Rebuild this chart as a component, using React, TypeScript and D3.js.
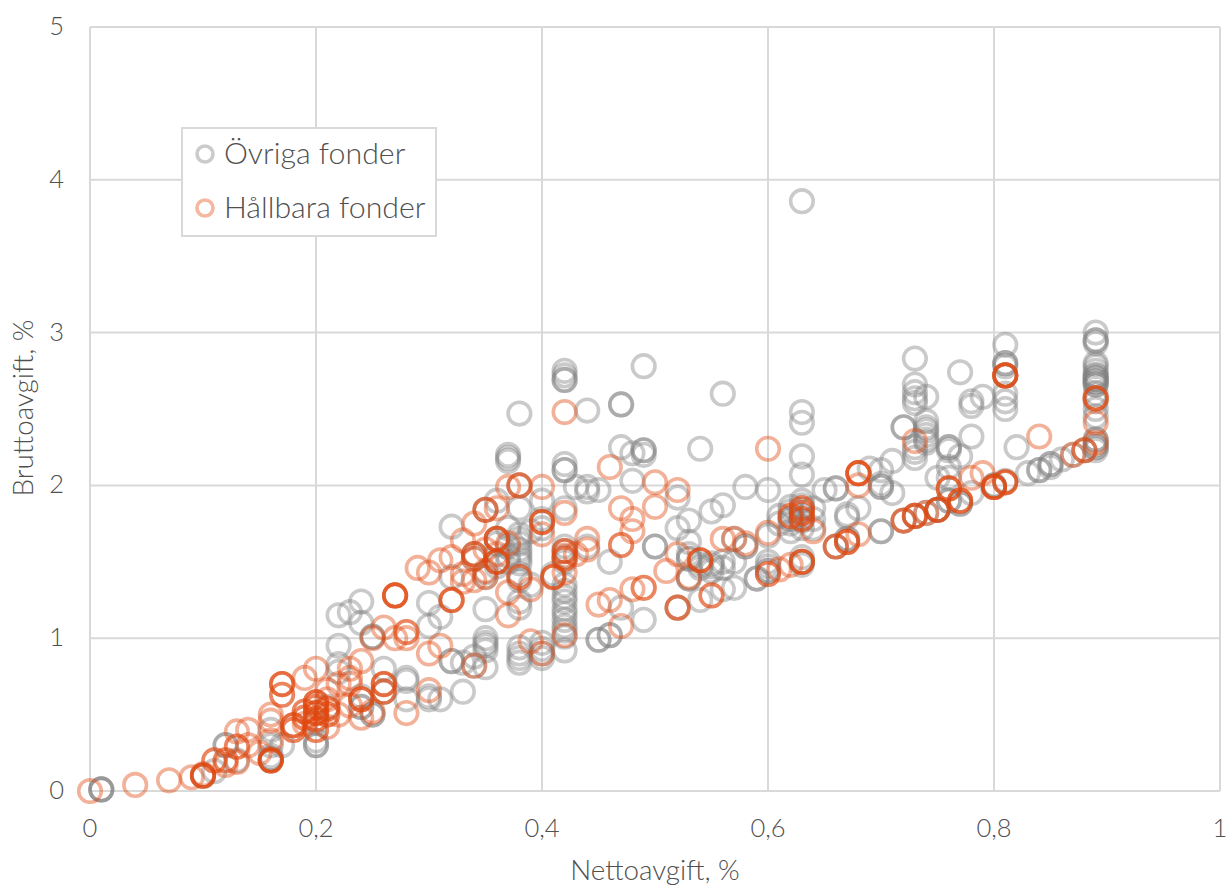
import React from "react";
import * as d3 from "d3";

const xTicks = [0, 0.2, 0.4, 0.6, 0.8, 1];
const yTicks = [0, 1, 2, 3, 4, 5];
const xTitle = "Nettoavgift, %";
const yTitle = "Bruttoavgift, %";
const seriesNames = ["Övriga fonder", "Hållbara fonder"];

// [netto, brutto, number of funds at that point]
const ovriga: [number, number, number][] = [
  [0.01,0.01,3],[0.1,0.1,1],[0.11,0.13,1],[0.12,0.3,2],[0.13,0.2,1],[0.16,0.21,2],[0.16,0.23,1],[0.16,0.3,1],[0.16,0.4,1],[0.17,0.3,1],
  [0.2,0.3,2],[0.2,0.33,1],[0.2,0.45,1],[0.21,0.55,1],[0.22,1.15,1],[0.23,1.17,1],[0.24,1.24,1],[0.24,1.1,1],[0.25,1.01,2],[0.22,0.95,1],
  [0.22,0.83,1],[0.22,0.78,1],[0.26,0.8,1],[0.25,0.5,2],[0.24,0.55,2],[0.24,0.62,1],[0.26,0.65,1],[0.28,0.72,1],[0.28,0.74,1],[0.28,0.6,1],
  [0.3,1.23,1],[0.3,1.08,1],[0.31,1.14,1],[0.3,0.6,1],[0.3,0.62,1],[0.31,0.6,1],[0.32,1.73,1],[0.32,1.4,1],[0.32,0.85,2],[0.33,0.84,1],[0.33,0.65,1],
  [0.34,0.88,1],[0.34,0.82,1],[0.34,1.55,1],[0.34,1.52,1],[0.35,1.0,1],[0.35,0.97,1],[0.35,0.95,1],[0.35,0.92,1],[0.35,0.81,1],[0.35,1.19,1],[0.35,1.4,1],[0.35,1.43,1],[0.35,1.84,1],
  [0.36,1.65,1],[0.36,1.62,1],[0.36,1.5,1],[0.36,1.47,1],[0.36,1.9,1],[0.37,1.72,1],[0.37,1.6,1],[0.37,2.18,1],[0.37,2.2,1],[0.37,2.16,1],[0.37,1.5,1],[0.37,1.54,1],[0.38,2.47,1],[0.38,2.0,1],[0.38,1.85,1],
  [0.38,1.68,1],[0.38,1.65,1],[0.38,1.62,1],[0.38,1.58,1],[0.38,1.55,1],[0.38,1.52,1],[0.38,1.49,1],[0.38,1.42,1],[0.38,1.38,1],[0.38,1.24,1],[0.38,1.2,1],[0.38,0.94,1],[0.38,0.9,1],[0.38,0.87,1],[0.38,0.84,1],[0.39,1.7,1],[0.39,1.35,1],
  [0.4,1.9,1],[0.4,1.78,1],[0.4,1.72,1],[0.4,0.97,1],[0.4,0.93,1],[0.4,0.9,1],[0.4,0.87,1],[0.41,1.42,1],[0.42,2.75,1],[0.42,2.72,1],[0.42,2.69,2],[0.42,2.14,1],[0.42,2.1,2],
  [0.42,1.85,1],[0.42,1.6,1],[0.42,1.57,1],[0.42,1.53,1],[0.42,1.5,1],[0.42,1.35,1],[0.42,1.31,1],[0.42,1.27,1],[0.42,1.24,1],[0.42,1.19,1],[0.42,1.16,1],[0.42,1.12,1],[0.42,1.08,1],[0.42,1.05,1],[0.42,1.01,1],[0.42,0.92,1],
  [0.43,1.99,1],[0.44,1.99,1],[0.44,1.96,1],[0.44,2.49,1],[0.44,1.6,1],[0.45,1.97,1],[0.45,0.99,2],[0.46,1.5,1],[0.46,1.02,2],[0.47,2.53,2],[0.47,2.25,1],[0.47,1.2,1],
  [0.48,2.21,1],[0.48,2.03,1],[0.49,2.78,1],[0.49,2.23,2],[0.49,2.2,1],[0.49,1.12,1],[0.5,1.6,2],[0.52,1.92,1],[0.52,1.72,1],[0.52,1.2,1],[0.53,1.77,1],
  [0.53,1.63,1],[0.53,1.55,1],[0.53,1.52,2],[0.53,1.39,2],[0.54,2.24,1],[0.54,1.48,1],[0.54,1.46,1],[0.54,1.25,1],[0.55,1.83,1],[0.55,1.49,1],[0.55,1.47,1],[0.55,1.44,1],[0.56,1.87,1],[0.56,2.6,1],
  [0.56,1.5,1],[0.56,1.46,1],[0.56,1.32,1],[0.57,1.33,1],[0.57,1.5,1],[0.57,1.65,1],[0.58,1.99,1],[0.58,1.6,2],[0.59,1.39,2],[0.6,1.97,1],[0.6,1.67,1],[0.6,1.5,1],[0.6,1.47,1],
  [0.6,1.44,2],[0.61,1.75,1],[0.61,1.8,1],[0.62,1.86,1],[0.62,1.83,1],[0.62,1.78,2],[0.62,1.75,1],[0.62,1.7,1],[0.63,3.86,1],[0.63,2.48,1],[0.63,2.41,1],[0.63,2.19,1],[0.63,2.07,1],
  [0.63,1.9,1],[0.63,1.87,1],[0.63,1.84,1],[0.63,1.8,1],[0.63,1.77,1],[0.63,1.72,1],[0.63,1.5,1],[0.63,1.53,1],[0.63,1.48,1],[0.64,1.85,1],[0.64,1.72,1],[0.64,1.78,1],[0.65,1.97,1],[0.66,1.98,2],[0.66,1.6,1],
  [0.67,1.79,1],[0.67,1.81,1],[0.67,1.65,2],[0.68,1.85,1],[0.69,2.11,1],[0.7,2.1,1],[0.7,1.99,2],[0.7,2.01,1],[0.7,1.7,2],[0.71,1.95,1],[0.71,2.16,1],[0.72,2.38,2],[0.72,1.77,1],
  [0.73,2.83,1],[0.73,2.66,1],[0.73,2.61,1],[0.73,2.57,1],[0.73,2.54,1],[0.73,2.25,1],[0.73,2.22,1],[0.73,2.18,1],[0.73,1.8,1],[0.74,2.58,1],[0.74,2.42,1],[0.74,2.38,1],[0.74,2.36,1],
  [0.74,2.33,1],[0.74,2.3,1],[0.74,2.28,1],[0.74,1.82,1],[0.75,2.05,1],[0.75,1.84,2],[0.76,2.25,2],[0.76,2.23,1],[0.76,2.12,1],[0.76,2.05,1],[0.76,1.9,2],[0.77,2.74,1],[0.77,2.19,1],
  [0.77,1.88,2],[0.78,2.55,1],[0.78,2.52,1],[0.78,2.32,1],[0.78,1.95,1],[0.79,2.58,1],[0.8,2.0,2],[0.81,2.92,1],[0.81,2.8,2],[0.81,2.78,1],[0.81,2.72,1],[0.81,2.6,1],[0.81,2.55,1],
  [0.81,2.5,1],[0.81,2.03,1],[0.82,2.25,1],[0.83,2.08,1],[0.84,2.1,2],[0.85,2.14,2],[0.85,2.12,1],[0.86,2.17,1],[0.87,2.2,1],[0.88,2.23,1],
  [0.89,3.0,1],[0.89,2.95,2],[0.89,2.93,1],[0.89,2.8,1],[0.89,2.78,1],[0.89,2.75,1],[0.89,2.72,2],[0.89,2.7,2],[0.89,2.68,2],[0.89,2.66,2],[0.89,2.6,1],[0.89,2.55,1],[0.89,2.5,1],[0.89,2.45,1],
  [0.89,2.3,2],[0.89,2.27,1],[0.89,2.25,2],[0.89,2.23,1],
];

const hallbara: [number, number, number][] = [
  [0,0,1],[0.04,0.04,1],[0.07,0.07,1],[0.09,0.09,1],[0.1,0.1,3],[0.1,0.11,1],[0.11,0.2,2],[0.12,0.2,2],[0.12,0.17,1],[0.13,0.19,1],[0.13,0.39,1],[0.14,0.4,1],
  [0.13,0.29,2],[0.14,0.3,1],[0.15,0.25,1],[0.16,0.2,4],[0.16,0.5,1],[0.16,0.46,1],[0.16,0.33,1],[0.17,0.7,3],[0.17,0.63,2],[0.19,0.74,1],[0.2,0.8,1],
  [0.18,0.43,3],[0.18,0.4,2],[0.19,0.52,2],[0.19,0.48,2],[0.19,0.44,1],[0.2,0.58,3],[0.2,0.55,2],[0.2,0.51,3],[0.2,0.47,2],[0.2,0.4,2],[0.21,0.54,2],[0.21,0.5,2],[0.21,0.6,1],[0.21,0.66,1],[0.21,0.42,1],
  [0.22,0.7,1],[0.22,0.5,1],[0.23,0.8,1],[0.23,0.7,1],[0.23,0.74,1],[0.23,0.56,1],[0.24,0.85,1],[0.24,0.6,3],[0.24,0.48,1],[0.25,0.52,1],[0.25,1.0,1],
  [0.26,1.07,1],[0.26,0.7,3],[0.26,0.65,2],[0.27,1.28,4],[0.27,1.0,1],[0.28,1.04,2],[0.28,0.51,1],[0.28,1.0,1],[0.29,1.46,1],[0.3,1.43,1],[0.3,0.9,1],[0.3,0.66,1],
  [0.31,1.51,1],[0.31,0.95,1],[0.32,1.25,3],[0.32,1.53,1],[0.33,1.64,1],[0.33,1.42,1],[0.33,1.37,1],[0.34,1.75,1],[0.34,1.55,2],[0.34,1.52,1],[0.34,1.38,1],[0.34,0.82,1],
  [0.35,1.84,2],[0.35,1.58,1],[0.35,1.4,1],[0.35,1.44,1],[0.36,1.85,1],[0.36,1.65,3],[0.36,1.5,3],[0.36,1.55,1],[0.37,1.99,1],[0.37,1.15,1],[0.37,1.3,1],[0.37,1.62,1],
  [0.38,2.0,2],[0.38,1.4,2],[0.39,1.32,1],[0.39,0.98,1],[0.4,1.99,1],[0.4,1.76,3],[0.4,1.68,1],[0.4,0.9,1],[0.41,1.4,3],[0.42,2.48,1],[0.42,1.82,1],
  [0.42,1.57,2],[0.42,1.54,1],[0.42,1.52,2],[0.42,1.43,1],[0.42,1.02,1],[0.43,1.55,1],[0.44,1.65,1],[0.44,1.58,1],[0.45,1.22,1],[0.46,2.12,1],[0.46,1.25,1],[0.47,1.61,2],[0.47,1.85,1],
  [0.47,1.08,1],[0.48,1.78,1],[0.48,1.7,1],[0.48,1.32,1],[0.49,1.33,2],[0.5,2.02,1],[0.5,1.86,1],[0.51,1.44,1],[0.52,1.97,1],[0.52,1.55,1],[0.52,1.2,2],
  [0.53,1.4,1],[0.54,1.51,3],[0.55,1.28,2],[0.56,1.65,1],[0.57,1.65,1],[0.58,1.62,1],[0.6,2.24,1],[0.6,1.69,1],[0.6,1.42,2],[0.61,1.45,1],[0.62,1.48,1],
  [0.62,1.8,2],[0.63,1.85,2],[0.63,1.82,2],[0.63,1.78,2],[0.63,1.5,3],[0.64,1.7,1],[0.66,1.6,2],[0.67,1.63,3],[0.68,2.08,4],[0.68,1.68,1],[0.68,2.0,1],
  [0.72,1.77,2],[0.73,1.8,3],[0.73,2.29,1],[0.74,1.82,1],[0.75,1.84,3],[0.76,1.98,3],[0.77,1.9,3],[0.78,2.05,1],[0.79,2.08,1],[0.8,1.99,4],[0.81,2.02,3],
  [0.81,2.72,4],[0.84,2.32,1],[0.87,2.2,1],[0.88,2.23,2],[0.89,2.57,3],[0.89,2.41,1],[0.89,2.28,1],
];

const W = 1228, H = 887;
const xScale = d3.scaleLinear().domain([0, 1]).range([90, 1220]);
const yScale = d3.scaleLinear().domain([0, 5]).range([791, 27]);
const fmt = (v: number) => String(v).replace(".", ",");
const FONT = "Lato, 'Open Sans', sans-serif";
const TEXT = "#505050";
const GRID = "#d9d9d9";

function Dots({ data, color, opacity }: { data: [number, number, number][]; color: string; opacity: number }) {
  const expanded = data.flatMap((d) => d3.range(d[2]).map(() => d));
  return (
    <g fill="none" stroke={color} strokeOpacity={opacity} strokeWidth={3.6}>
      {expanded.map((d, i) => (
        <circle key={i} cx={xScale(d[0])} cy={yScale(d[1])} r={11.3} />
      ))}
    </g>
  );
}

export default function App() {
  return (
    <svg width={W} height={H} viewBox={`0 0 ${W} ${H}`} style={{ position: "absolute", left: 0, top: 0, background: "#fff" }}>
      <g stroke={GRID} strokeWidth={2}>
        {xTicks.map((t) => <line key={t} x1={xScale(t)} x2={xScale(t)} y1={yScale(5)} y2={yScale(0)} />)}
        {yTicks.map((t) => <line key={t} x1={xScale(0)} x2={xScale(1)} y1={yScale(t)} y2={yScale(t)} />)}
      </g>
      <g fontFamily={FONT} fontWeight={300} fontSize={25.5} fill={TEXT}>
        {xTicks.map((t) => <text key={t} x={xScale(t)} y={837} textAnchor="middle">{fmt(t)}</text>)}
        {yTicks.map((t) => <text key={t} x={64} y={yScale(t) + 8} textAnchor="end">{fmt(t)}</text>)}
        <text x={655} y={880} textAnchor="middle" fontSize={27.8}>{xTitle}</text>
        <text transform="translate(33,408) rotate(-90)" textAnchor="middle" fontSize={27.8}>{yTitle}</text>
      </g>
      <Dots data={ovriga} color="#808080" opacity={0.42} />
      <Dots data={hallbara} color="#e0480f" opacity={0.42} />
      <rect x={182} y={128} width={254} height={108} fill="#fff" stroke={GRID} strokeWidth={2} />
      <g fill="none" strokeWidth={3.6}>
        <circle cx={205} cy={154} r={8} stroke="#cbcbcb" />
        <circle cx={205} cy={208} r={8} stroke="#f4b8a0" />
      </g>
      <g fontFamily={FONT} fontWeight={300} fontSize={30.3} fill={TEXT}>
        <text x={224} y={164}>{seriesNames[0]}</text>
        <text x={224} y={218}>{seriesNames[1]}</text>
      </g>
    </svg>
  );
}
